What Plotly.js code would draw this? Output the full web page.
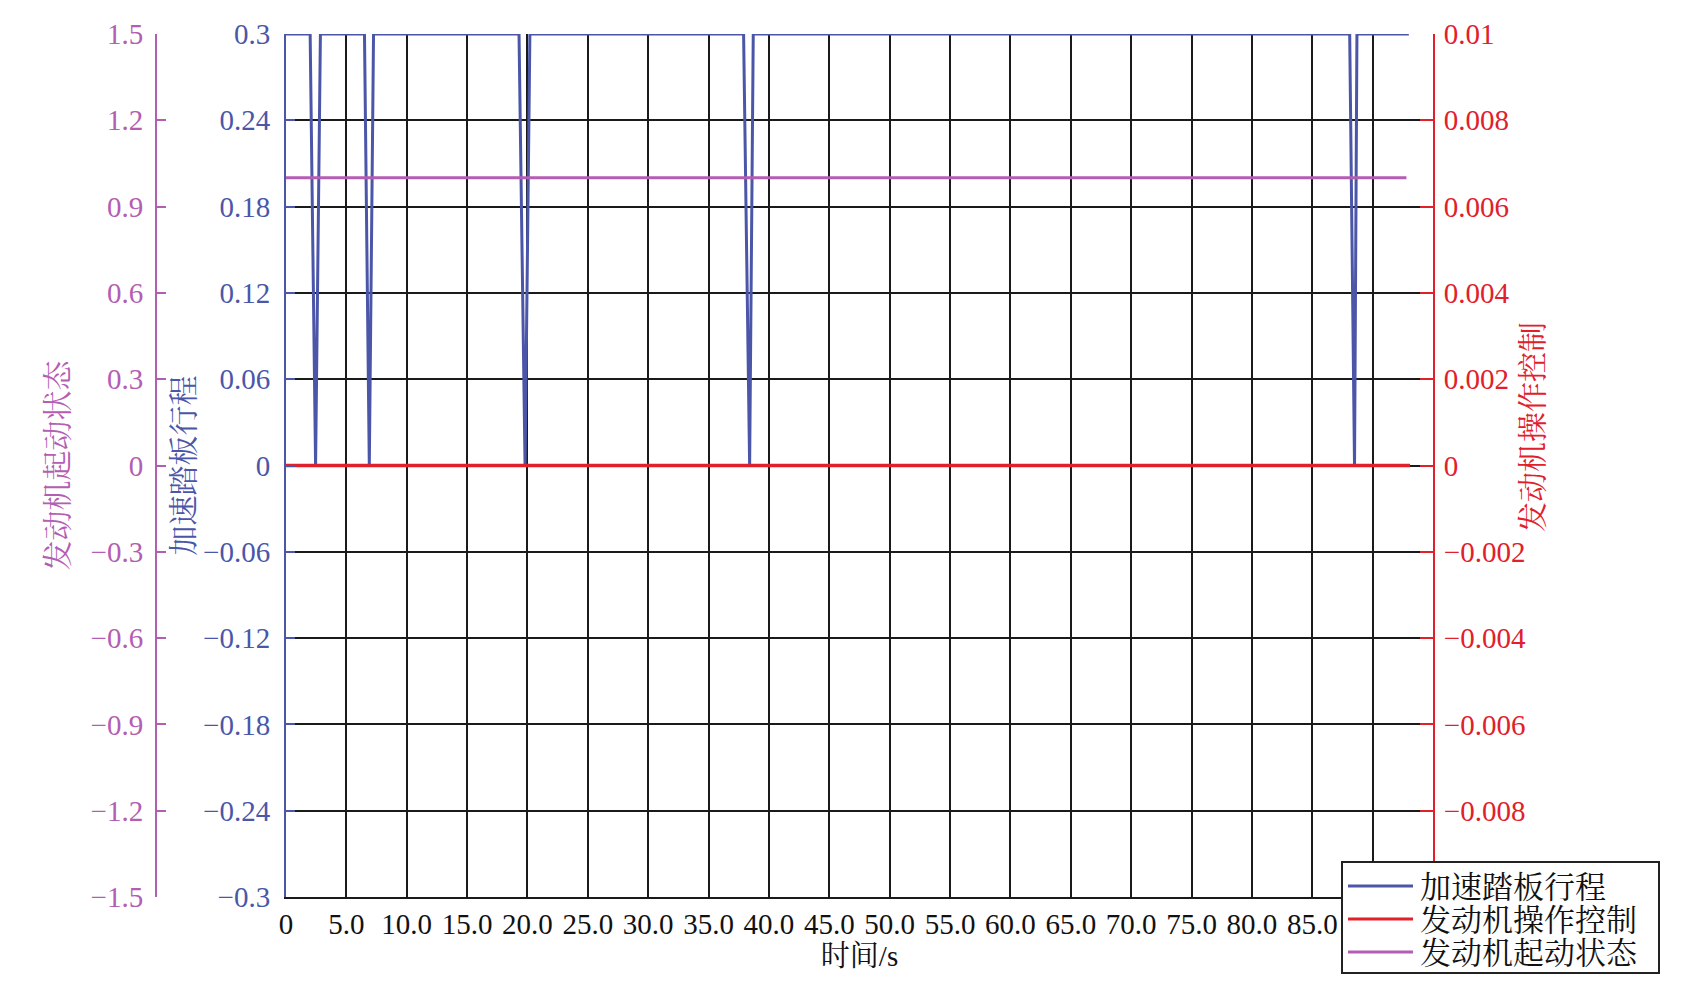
<!DOCTYPE html>
<html>
<head>
<meta charset="utf-8">
<script src="https://cdn.plot.ly/plotly-3.0.1.min.js"></script>
<style>html,body{margin:0;padding:0;background:#fff;}#chart{width:1687px;height:996px;}</style>
</head>
<body>
<div id="chart"></div>
<script>
// ---- data ----
var pedalTime = [0, 2.0, 2.45, 2.85, 6.5, 6.9, 7.25, 19.3, 19.8, 20.2, 37.9, 38.4, 38.7, 88.1, 88.5, 88.7, 93.0];
var pedalValue = [0.3, 0.3, 0, 0.3, 0.3, 0, 0.3, 0.3, 0, 0.3, 0.3, 0, 0.3, 0.3, 0, 0.3, 0.3];
var controlTime = [0, 93.1];
var controlValue = [0, 0];
var startTime = [0, 92.8];
var startValue = [1, 1];

var xTickVals = [0, 5, 10, 15, 20, 25, 30, 35, 40, 45, 50, 55, 60, 65, 70, 75, 80, 85, 90, 95];
var xTickText = ["0", "5.0", "10.0", "15.0", "20.0", "25.0", "30.0", "35.0", "40.0", "45.0", "50.0", "55.0", "60.0", "65.0", "70.0", "75.0", "80.0", "85.0", "", ""];
var pedalTickVals = [-0.3, -0.24, -0.18, -0.12, -0.06, 0, 0.06, 0.12, 0.18, 0.24, 0.3];
var pedalTickText = ["\u22120.3", "\u22120.24", "\u22120.18", "\u22120.12", "\u22120.06", "0", "0.06", "0.12", "0.18", "0.24", "0.3"];
var controlTickVals = [-0.008, -0.006, -0.004, -0.002, 0, 0.002, 0.004, 0.006, 0.008, 0.01];
var controlTickText = ["\u22120.008", "\u22120.006", "\u22120.004", "\u22120.002", "0", "0.002", "0.004", "0.006", "0.008", "0.01"];
var startTickVals = [-1.5, -1.2, -0.9, -0.6, -0.3, 0, 0.3, 0.6, 0.9, 1.2, 1.5];
var startTickText = ["\u22121.5", "\u22121.2", "\u22120.9", "\u22120.6", "\u22120.3", "0", "0.3", "0.6", "0.9", "1.2", "1.5"];

var names = ["加速踏板行程", "发动机操作控制", "发动机起动状态"];
var xTitle = "时间/s";

// ---- style ----
var BLUE = "#4B56A9", RED = "#E0202B", PURPLE = "#B35DB3";
var COLORS = [BLUE, RED, PURPLE];
var FONT = "'Liberation Serif', 'Noto Serif CJK SC', 'Noto Sans CJK SC', serif";
var TICK = 29;
var W = 1687, H = 996;
function px(x) { return x / W; }
function py(y) { return 1 - y / H; }

var traces = [
  {x: pedalTime, y: pedalValue, name: names[0], mode: "lines", yaxis: "y",
   line: {color: BLUE, width: 3}},
  {x: controlTime, y: controlValue, name: names[1], mode: "lines", yaxis: "y2",
   line: {color: RED, width: 3.5}},
  {x: startTime, y: startValue, name: names[2], mode: "lines", yaxis: "y3",
   line: {color: PURPLE, width: 3}}
];

// legend box drawn as layout shapes + annotations (longer key lines as in the reference)
var legRows = [886, 919, 952];
var shapes = [{type: "rect", xref: "paper", yref: "paper",
               x0: px(1342), x1: px(1659), y0: py(973), y1: py(862),
               line: {color: "#222", width: 2}, fillcolor: "#fff", layer: "above"}];
var annotations = [];
for (var i = 0; i < names.length; i++) {
  shapes.push({type: "line", xref: "paper", yref: "paper",
               x0: px(1348), x1: px(1413), y0: py(legRows[i]), y1: py(legRows[i]),
               line: {color: COLORS[i], width: 3}, layer: "above"});
  annotations.push({xref: "paper", yref: "paper", x: px(1418), y: py(legRows[i] + 1),
                    xanchor: "left", yanchor: "middle", showarrow: false, text: names[i],
                    font: {family: FONT, size: 31, color: "#111"}});
}
// right axis title (positioned as in the reference, above the axis centre)
annotations.push({xref: "paper", yref: "paper", x: px(1532), y: py(427), xanchor: "center", yanchor: "middle",
                  showarrow: false, textangle: -90, text: names[1],
                  font: {family: FONT, size: 30, color: RED}});

var layout = {
  width: W, height: H,
  margin: {l: 0, r: 0, t: 0, b: 0},
  paper_bgcolor: "#fff", plot_bgcolor: "#fff",
  font: {family: FONT, size: TICK, color: "#111"},
  showlegend: false,
  shapes: shapes,
  annotations: annotations,
  xaxis: {domain: [px(286), px(1433)], range: [0, 95], automargin: false,
          tickvals: xTickVals, ticktext: xTickText, ticks: "",
          showgrid: true, gridcolor: "#1a1a1a", gridwidth: 2,
          showline: true, linecolor: "#1a1a1a", linewidth: 2, zeroline: false,
          tickfont: {family: FONT, size: TICK, color: "#111"}, ticklabelstandoff: 0,
          title: {text: xTitle, font: {family: FONT, size: 29, color: "#111"}, standoff: 6}},
  yaxis: {domain: [py(897), py(34)], range: [-0.3, 0.3], automargin: false,
          tickvals: pedalTickVals, ticktext: pedalTickText,
          ticks: "inside", ticklen: 9, tickwidth: 2, tickcolor: BLUE,
          showline: true, linecolor: BLUE, linewidth: 2,
          showgrid: true, gridcolor: "#1a1a1a", gridwidth: 2, zeroline: false,
          tickfont: {family: FONT, size: TICK, color: BLUE}, ticklabelstandoff: 8,
          title: {text: names[0], font: {family: FONT, size: 30, color: BLUE}, standoff: 0}},
  yaxis2: {overlaying: "y", side: "right", anchor: "x", range: [-0.01, 0.01], automargin: false,
           tickvals: controlTickVals, ticktext: controlTickText,
           ticks: "inside", ticklen: 13, tickwidth: 2, tickcolor: RED,
           showline: true, linecolor: RED, linewidth: 2,
           showgrid: false, zeroline: false,
           tickfont: {family: FONT, size: TICK, color: RED}, ticklabelstandoff: 3},
  yaxis3: {overlaying: "y", side: "left", anchor: "free", position: px(156), range: [-1.5, 1.5], automargin: false,
           tickvals: startTickVals, ticktext: startTickText,
           ticks: "inside", ticklen: 9, tickwidth: 2, tickcolor: PURPLE,
           showline: true, linecolor: PURPLE, linewidth: 2,
           showgrid: false, zeroline: false,
           tickfont: {family: FONT, size: TICK, color: PURPLE}, ticklabelstandoff: 6,
           title: {text: names[2], font: {family: FONT, size: 30, color: PURPLE}, standoff: 12}}
};

Plotly.newPlot("chart", traces, layout, {displayModeBar: false, staticPlot: true});
</script>
</body>
</html>
